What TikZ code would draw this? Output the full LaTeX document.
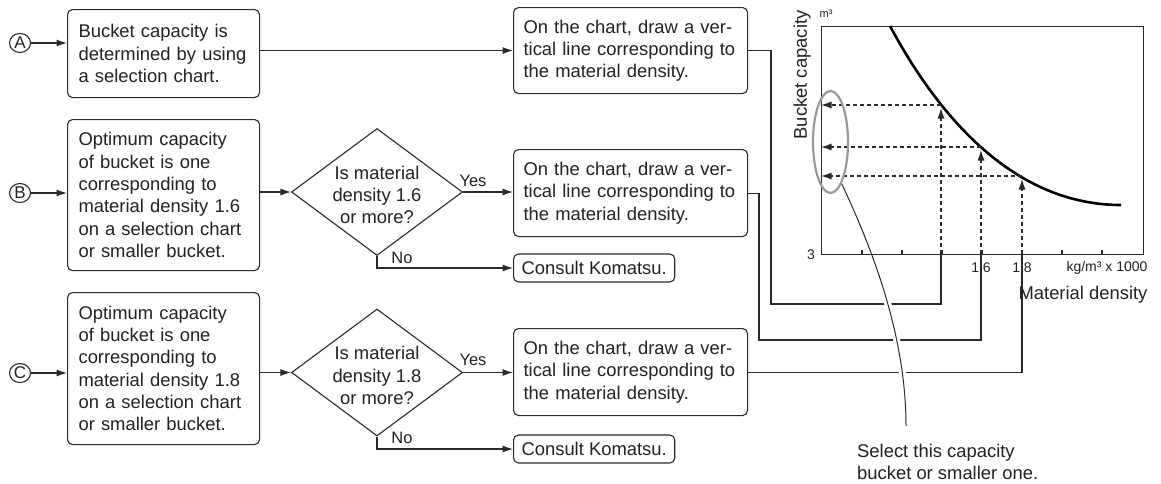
\documentclass[tikz,border=0pt]{standalone}
\usepackage{fontspec}
\setmainfont{Liberation Sans}
\usetikzlibrary{arrows.meta,shapes.geometric,calc}
\definecolor{ln}{HTML}{2A2A2A}
\definecolor{tx}{HTML}{222222}
\newcommand\fbig{\fontsize{18.4}{22.3}\selectfont}
\newcommand\fmid{\fontsize{16.5}{19}\selectfont}
\newcommand\fsml{\fontsize{14}{16}\selectfont}
\newcommand\ftiny{\fontsize{11}{12}\selectfont}
\begin{document}
\begin{tikzpicture}[x=1pt,y=-1pt,
  every node/.style={text=tx},
  box/.style={draw=ln, line width=1.1pt, rounded corners=5pt, align=left, font=\fbig, anchor=north west, inner ysep=0pt},
  conn/.style={draw=ln, line width=1.1pt},
  arr/.style={conn, -{Latex[length=10.5pt,width=7pt]}},
  dsh/.style={dash pattern=on 4pt off 3pt},
  dia/.style={diamond, draw=ln, line width=1.1pt, minimum width=171pt, minimum height=127pt, inner sep=0pt},
  circ/.style={ellipse, draw=ln, line width=1.1pt, minimum width=21pt, minimum height=19pt, inner sep=0pt, font=\fontsize{17}{18}\selectfont},
  lab/.style={font=\fmid, inner sep=0pt}]
\fill[white] (0,0) rectangle (1161,483);
\useasboundingbox (0,0) rectangle (1161,483);

% left column
\node[circ] (cA) at (20,43) {A};
\node[circ] (cB) at (20,193) {B};
\node[circ] (cC) at (20,373) {C};

\node[box, text width=170pt, inner xsep=11pt, minimum height=88pt] (A1) at (67,9)
  {Bucket capacity is\\determined by using\\a selection chart.};
\node[box, text width=170pt, inner xsep=11pt, minimum height=151pt] (B1) at (67,119)
  {Optimum capacity\\of bucket is one\\corresponding to\\material density 1.6\\on a selection chart\\or smaller bucket.};
\node[box, text width=170pt, inner xsep=11pt, minimum height=152pt] (C1) at (67,292)
  {Optimum capacity\\of bucket is one\\corresponding to\\material density 1.8\\on a selection chart\\or smaller bucket.};

% diamonds
\node[dia] (dB) at (377,192) {};
\node[font=\fbig, align=center, inner sep=0pt] (dBt) at (377,195) {Is material\\density 1.6\\or more?};
\node[dia] (dC) at (377,372.5) {};
\node[font=\fbig, align=center, inner sep=0pt] (dCt) at (377,375.5) {Is material\\density 1.8\\or more?};

% right boxes
\node[box, text width=214pt, inner xsep=10pt, minimum height=86pt] (A2) at (513,7)
  {On the chart, draw a ver-\\tical line corresponding to\\the material density.};
\node[box, text width=214pt, inner xsep=10pt, minimum height=87pt] (B2) at (513,149)
  {On the chart, draw a ver-\\tical line corresponding to\\the material density.};
\node[box, text width=214pt, inner xsep=10pt, minimum height=87pt] (C2) at (513,328)
  {On the chart, draw a ver-\\tical line corresponding to\\the material density.};
\node[box, anchor=west, inner xsep=8pt, minimum height=28pt] (KB) at (513,268) {Consult Komatsu.};
\node[box, anchor=west, inner xsep=8pt, minimum height=28pt] (KC) at (513,449) {Consult Komatsu.};

\node[lab] (yB) at (473,181) {Yes};
\node[lab] (nB) at (402,258) {No};
\node[lab] (yC) at (473,360) {Yes};
\node[lab] (nC) at (402,438) {No};

% flow connectors
\draw[arr] (cA.east) -- (cA.east -| A1.west);
\draw[arr] (cB.east) -- (cB.east -| B1.west);
\draw[arr] (cC.east) -- (cC.east -| C1.west);
\draw[arr] (A1.east |- A2.west) -- (A2.west);
\draw[arr] (B1.east |- dB.west) -- (dB.west);
\draw[arr] (C1.east |- dC.west) -- (dC.west);
\draw[arr] (dB.east) -- (dB.east -| B2.west);
\draw[arr] (dC.east) -- (dC.east -| C2.west);
\draw[arr] (dB.south) |- (KB.west);
\draw[arr] (dC.south) |- (KC.west);

% chart
\node[draw=ln, line width=1.2pt, minimum width=322pt, minimum height=228pt, anchor=north west, inner sep=0pt] (frame) at (821,26) {};
\foreach \x in {862,902,...,1102} \draw[conn] (\x,254) -- (\x,250);
\draw[black, line width=2.6pt] (890,26) .. controls (935,110) and (1010,205) .. (1121,205);

\coordinate (xA) at (941,254);
\coordinate (xB) at (981,254);
\coordinate (xC) at (1022,254);
\coordinate (pA) at (941,105);
\coordinate (pB) at (981,147);
\coordinate (pC) at (1022,176);
\coordinate (jA) at (771,304);
\coordinate (jB) at (759,340);

\node[font=\fsml, inner sep=0pt] (t3) at (811,255) {3};
\node[font=\fsml, inner sep=0pt] (l16) at (981,268) {1.6};
\node[font=\fsml, inner sep=0pt] (l18) at (1022,268) {1.8};
\node[font=\fsml, inner sep=0pt] (lkg) at (1107,268) {kg/m³ x 1000};
\node[font=\fbig, inner sep=0pt] (lmd) at (1083,295) {Material density};
\node[font=\ftiny, inner sep=0pt] (lm3) at (826,14) {m³};
\node[font=\fbig, rotate=90, inner sep=0pt] (lbc) at (802,75) {Bucket capacity};

% dashed reading lines
\draw[arr, dsh] (xA) -- ($(pA)+(0,3)$);
\draw[arr, dsh] (xB) -- ($(pB)+(0,3)$);
\draw[arr, dsh] (xC) -- ($(pC)+(0,3)$);
\draw[arr, dsh] (pA) -- (pA -| frame.west);
\draw[arr, dsh] (pB) -- (pB -| frame.west);
\draw[arr, dsh] (pC) -- (pC -| frame.west);

% connectors from boxes to chart
\draw[conn] (A2.east) -| (jA) -- (jA -| xA) -- (xA);
\draw[conn] (B2.east) -| (jB) -- (jB -| xB) -- (xB);
\draw[conn] (C2.east) -- (C2.east -| xC) -- (xC);

% selection ellipse and leader
\node[ellipse, draw=gray!80, line width=2.2pt, minimum width=35pt, minimum height=102pt, inner sep=0pt] (sel) at (830.5,142) {};
\node[font=\fbig, align=left, anchor=north west, inner sep=0pt] (note) at (857,444)
  {Select this capacity\\bucket or smaller one.};
\coordinate (lend) at (906,426);
\begin{scope}
  \clip (840,262) rectangle (930,430);
  \draw[white, line width=7pt] (sel.-75) .. controls (868,240) and (906,330) .. (lend);
\end{scope}
\draw[ln, line width=1pt] (sel.-75) .. controls (868,240) and (906,330) .. (lend);
\end{tikzpicture}
\end{document}
